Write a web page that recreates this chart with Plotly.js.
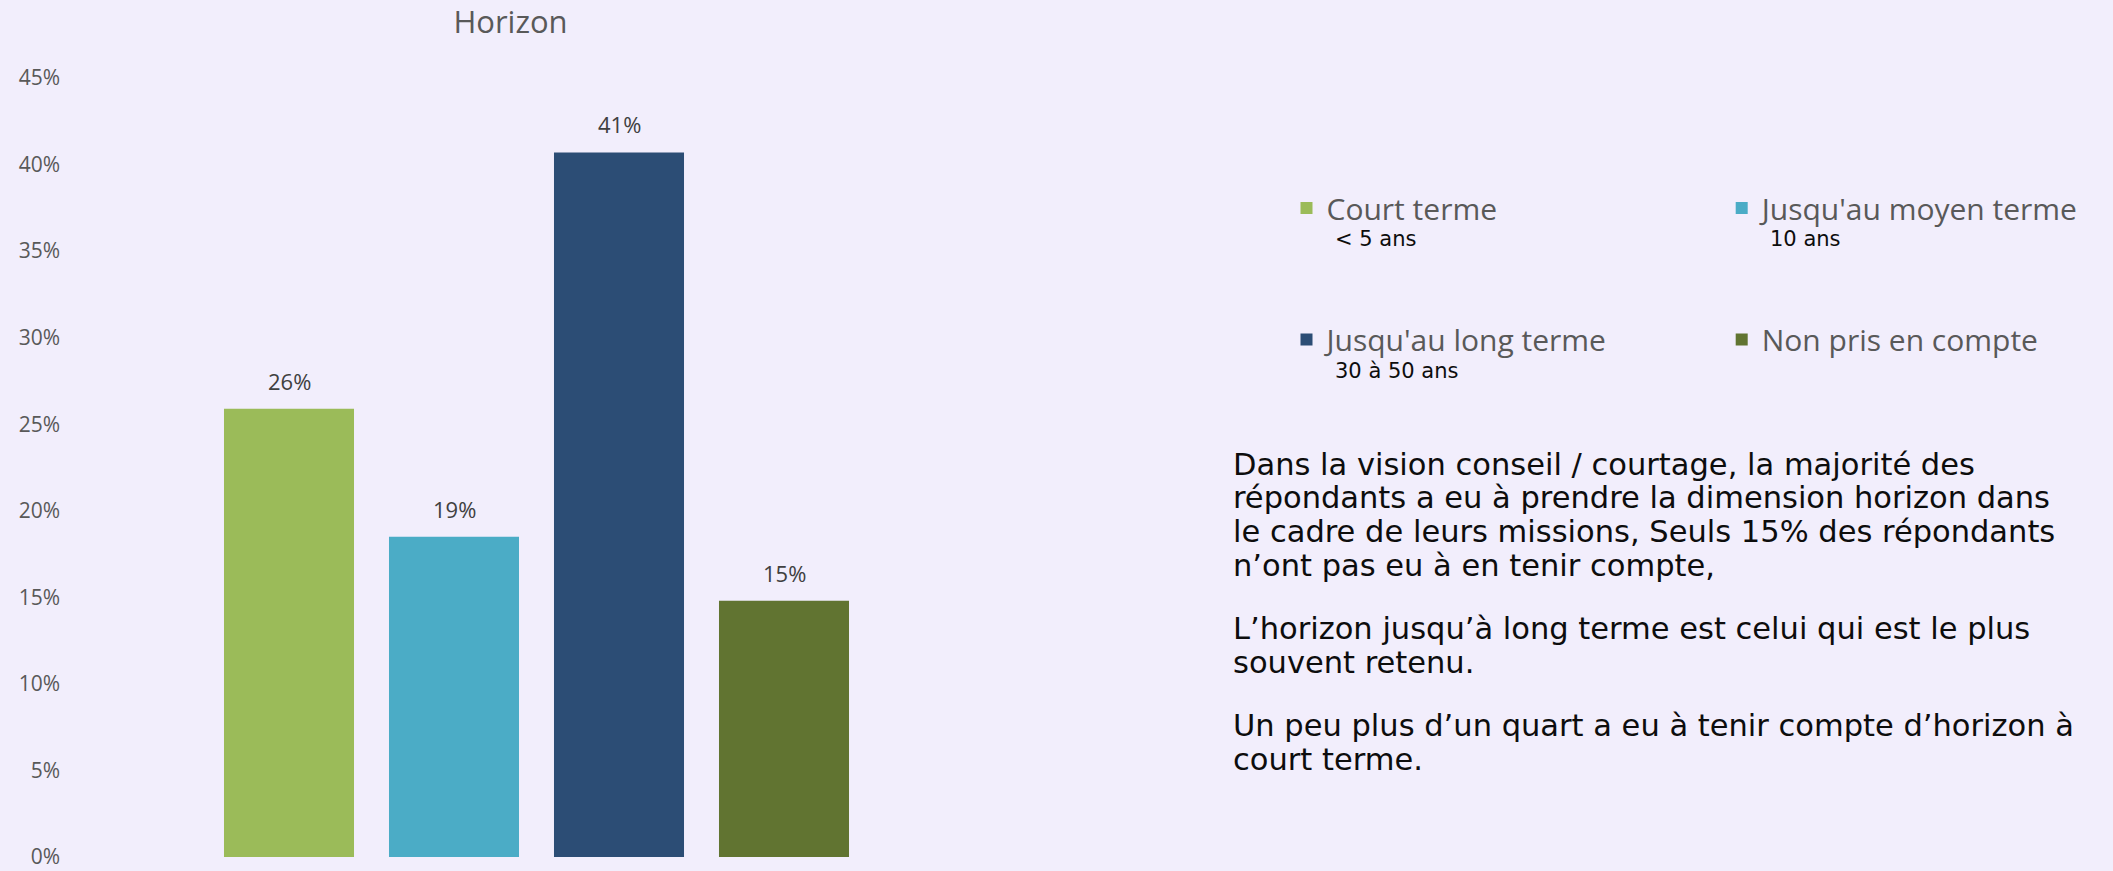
<!DOCTYPE html>
<html>
<head>
<meta charset="utf-8">
<script src="https://cdn.plot.ly/plotly-3.0.1.min.js"></script>
<style>
  html, body { margin: 0; padding: 0; background: #F2EEFC; }
  #chart { width: 2113px; height: 871px; }
</style>
</head>
<body>
<div id="chart"></div>
<script>
// ---- Data ----
const categories = ["Court terme", "Jusqu'au moyen terme", "Jusqu'au long terme", "Non pris en compte"];
const subLabels = ["< 5 ans", "10 ans", "30 à 50 ans", ""];
const values = [0.259, 0.185, 0.407, 0.148];
const colors = ["#9BBB59", "#4BACC6", "#2C4D75", "#617431"];
const chartTitle = "Horizon";
const paragraphs = [
  ["Dans la vision conseil / courtage, la majorité des",
   "répondants a eu à prendre la dimension horizon dans",
   "le cadre de leurs missions, Seuls 15% des répondants",
   "n’ont pas eu à en tenir compte,"],
  ["L’horizon jusqu’à long terme est celui qui est le plus",
   "souvent retenu."],
  ["Un peu plus d’un quart a eu à tenir compte d’horizon à",
   "court terme."]
];

// ---- Layout constants (pixels) ----
const FIG_W = 2113, FIG_H = 871;
const M = { l: 65, r: 1048, t: 77.5, b: 14 };
const PW = FIG_W - M.l - M.r, PH = FIG_H - M.t - M.b;
const PLOT_BOTTOM = FIG_H - M.b;
const px2x = px => (px - M.l) / PW;
const px2y = py => (PLOT_BOTTOM - py) / PH;

const legendCols = [1306.5, 1741.7];   // symbol centers
const legendRows = [208, 339.5];
const paraStarts = [474.3, 639.3, 735.7]; // baselines
const lineStep = 33.8;

const gray = "#595959";

const traces = categories.map((c, i) => ({
  type: "bar",
  x: [c],
  y: [values[i]],
  name: c,
  marker: { color: colors[i] },
  legend: i === 0 ? "legend" : "legend" + (i + 1),
  hoverinfo: "skip"
}));

const layout = {
  width: FIG_W, height: FIG_H,
  paper_bgcolor: "#F2EEFC",
  plot_bgcolor: "#F2EEFC",
  margin: { l: M.l, r: M.r, t: M.t, b: M.b, autoexpand: false },
  barmode: "overlay",
  bargap: 0.212,
  font: { family: "Open Sans, sans-serif", color: gray },
  title: {
    text: chartTitle,
    font: { family: "Open Sans, sans-serif", size: 31, color: gray },
    xref: "container", yref: "container",
    x: 510.5 / FIG_W, xanchor: "center",
    y: 1 - 22.5 / FIG_H, yanchor: "middle"
  },
  xaxis: {
    type: "category",
    categoryorder: "array", categoryarray: categories,
    range: [-(289 - M.l) / 165, -(289 - M.l) / 165 + PW / 165],
    showticklabels: false, showgrid: false, zeroline: false, showline: false, ticks: ""
  },
  yaxis: {
    range: [0, 0.45],
    dtick: 0.05, tick0: 0,
    tickformat: ".0%",
    showgrid: false, zeroline: false, showline: false, ticks: "",
    ticklabelstandoff: 4,
    ticklabeloverflow: "allow",
    tickfont: { family: "Open Sans, sans-serif", size: 21, color: gray }
  },
  annotations: [],
  showlegend: true
};

// Legends: one per category
categories.forEach((c, i) => {
  const key = i === 0 ? "legend" : "legend" + (i + 1);
  const row = Math.floor(i / 2), col = i % 2;
  layout[key] = {
    xref: "container", yref: "container",
    x: (legendCols[col] - 20) / FIG_W, xanchor: "left",
    y: 1 - legendRows[row] / FIG_H, yanchor: "middle",
    bgcolor: "rgba(0,0,0,0)",
    borderwidth: 0,
    font: { family: "Open Sans, sans-serif", size: 30, color: gray }
  };
  // sub label
  if (subLabels[i]) {
    layout.annotations.push({
      xref: "paper", yref: "paper",
      x: px2x(legendCols[col] + 26), xanchor: "left",
      y: px2y(legendRows[row] + 38 - 7.3), yanchor: "middle",
      text: subLabels[i].replace("<", "&lt;"),
      showarrow: false,
      font: { family: "DejaVu Sans, sans-serif", size: 21, color: "#0d0d0d" }
    });
  }
  // data label
  layout.annotations.push({
    xref: "x", yref: "y",
    x: c, y: values[i],
    yshift: 28, yanchor: "middle", xanchor: "center",
    text: Math.round(values[i] * 100) + "%",
    showarrow: false,
    font: { family: "Open Sans, sans-serif", size: 22, color: "#404040" }
  });
});

// Body text, one annotation per line
paragraphs.forEach((lines, p) => {
  lines.forEach((line, k) => {
    const baseline = paraStarts[p] + k * lineStep;
    layout.annotations.push({
      xref: "paper", yref: "paper",
      x: px2x(1231), xanchor: "left",
      y: px2y(baseline - 10.5), yanchor: "middle",
      text: line, showarrow: false, align: "left",
      font: { family: "DejaVu Sans, sans-serif", size: 30.5, color: "#0d0d0d" }
    });
  });
});

Plotly.newPlot("chart", traces, layout, { displayModeBar: false, staticPlot: true });
</script>
</body>
</html>
